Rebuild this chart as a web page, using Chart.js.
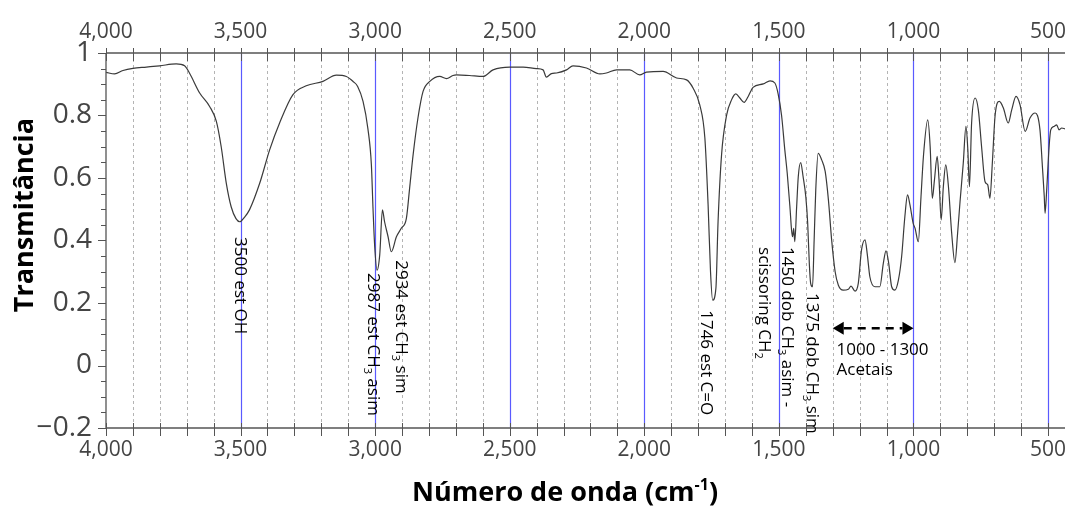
<!DOCTYPE html>
<html><head><meta charset="utf-8">
<script src="https://cdn.jsdelivr.net/npm/chart.js@4.4.1/dist/chart.umd.min.js"></script>
<style>html,body{margin:0;padding:0;background:#fff}#wrap{width:1065px;height:508px;position:relative}</style>
</head><body><div id="wrap"><canvas id="c"></canvas></div>
<script>
// ---- data ----
const wavenumbers = [4000,3968,3937,3900,3850,3801,3739,3708,3690,3652,3615,3590,3572,3553,3535,3517,3503,3485,3467,3429,3392,3355,3306,3256,3194,3144,3107,3082,3065,3045,3027,3014,3008,3002,2993,2983,2973,2965,2952,2940,2921,2903,2884,2872,2859,2841,2822,2797,2760,2735,2711,2698,2650,2599,2562,2500,2450,2401,2376,2364,2345,2326,2289,2265,2215,2165,2141,2103,2054,2017,1992,1930,1880,1843,1819,1794,1775,1763,1754,1746,1734,1726,1713,1694,1676,1660,1645,1629,1614,1596,1558,1533,1515,1503,1490,1478,1469,1459,1453,1449,1445,1441,1434,1428,1419,1410,1400,1393,1387,1382,1375,1369,1363,1354,1341,1328,1316,1304,1291,1279,1261,1242,1232,1217,1205,1193,1180,1172,1162,1143,1125,1112,1102,1092,1081,1069,1056,1044,1032,1022,1013,1001,994,982,972,963,947,938,930,922,912,905,897,889,880,870,858,846,836,827,815,805,798,792,784,771,759,747,734,724,716,707,697,681,666,648,635,619,604,585,567,548,530,521,514,511,505,496,490,478,468,459,449,437];
const transmittance = [0.938,0.933,0.944,0.951,0.955,0.959,0.965,0.959,0.936,0.872,0.829,0.781,0.700,0.583,0.508,0.470,0.460,0.475,0.498,0.583,0.690,0.776,0.866,0.895,0.909,0.929,0.925,0.909,0.893,0.845,0.758,0.642,0.503,0.386,0.305,0.354,0.498,0.460,0.412,0.364,0.412,0.439,0.471,0.567,0.674,0.792,0.877,0.909,0.925,0.918,0.928,0.930,0.928,0.925,0.946,0.955,0.955,0.950,0.946,0.923,0.934,0.936,0.946,0.959,0.952,0.933,0.936,0.946,0.946,0.930,0.939,0.941,0.920,0.914,0.888,0.834,0.728,0.514,0.300,0.209,0.247,0.460,0.674,0.802,0.850,0.869,0.856,0.842,0.861,0.890,0.901,0.911,0.904,0.870,0.800,0.690,0.615,0.508,0.434,0.412,0.439,0.396,0.508,0.604,0.649,0.604,0.540,0.455,0.327,0.263,0.252,0.402,0.562,0.679,0.658,0.621,0.530,0.402,0.300,0.257,0.241,0.244,0.254,0.238,0.263,0.370,0.402,0.359,0.284,0.252,0.252,0.327,0.367,0.327,0.252,0.241,0.273,0.348,0.476,0.546,0.514,0.455,0.439,0.396,0.540,0.669,0.786,0.701,0.535,0.594,0.669,0.594,0.466,0.572,0.642,0.572,0.423,0.329,0.423,0.524,0.647,0.765,0.690,0.572,0.776,0.856,0.818,0.701,0.588,0.578,0.535,0.647,0.797,0.845,0.824,0.776,0.818,0.861,0.834,0.749,0.792,0.808,0.754,0.637,0.540,0.487,0.562,0.701,0.754,0.765,0.770,0.754,0.760,0.757];
const xTickValues = [4000,3500,3000,2500,2000,1500,1000,500];
const yTickValues = [-0.2,0,0.2,0.4,0.6,0.8,1];
const xMin = 437, xMax = 4000, yMin = -0.2, yMax = 1;
const xTitle = ['Número de onda (cm', '-1', ')'];
const yTitle = 'Transmitância';
// peak annotations: anchor in data units (wavenumber, transmittance); segments [text, isSubscript]
const peakLabels = [
  {wn:3500, t:0.411, lines:[[['3500 est OH',0]]]},
  {wn:3005, t:0.296, lines:[[['2987 est CH',0],['3',1],[' asim',0]]]},
  {wn:2900, t:0.337, lines:[[['2934 est CH',0],['3',1],[' sim',0]]]},
  {wn:1766, t:0.177, lines:[[['1746 est C=O',0]]]},
  {wn:1467, t:0.379, lines:[[['1450 dob CH',0],['3',1],[' asim -',0]],[['scissoring CH',0],['2',1]]]},
  {wn:1374, t:0.232, lines:[[['1375 dob CH',0],['3',1],[' sim',0]]]}
];
const rangeArrow = {from:1300, to:1000, t:0.119};
const rangeText = [{wn:1286, t:0.049, text:'1000 - 1300'},{wn:1286, t:-0.015, text:'Acetais'}];

const FONT = "'Open Sans', 'Noto Sans', sans-serif";

function drawSegments(ctx, segs, fs){
  let x = 0;
  for (const [txt, sub] of segs){
    if (sub){
      ctx.font = Math.round(fs*0.65) + 'px ' + FONT;
      ctx.fillText(txt, x, fs*0.357 + fs*0.22);
    } else {
      ctx.font = fs + 'px ' + FONT;
      ctx.fillText(txt, x, fs*0.357);
    }
    x += ctx.measureText(txt).width;
  }
}

const decor = {
  id:'decor',
  beforeDatasetsDraw(chart){
    const ctx = chart.ctx, xs = chart.scales.x, a = chart.chartArea;
    ctx.save();
    for (let w = 4000; w >= 400; w -= 100){
      if (w < xMin) continue;
      const px = Math.round(xs.getPixelForValue(w)) + 0.5;
      if (w === 4000) continue;
      ctx.beginPath();
      if (w % 500 === 0){ ctx.setLineDash([]); ctx.strokeStyle = '#5a5aff'; ctx.lineWidth = 1.2; }
      else { ctx.setLineDash([3,3]); ctx.strokeStyle = '#b4b4b4'; ctx.lineWidth = 1; }
      ctx.moveTo(px, a.top); ctx.lineTo(px, a.bottom); ctx.stroke();
    }
    ctx.restore();
  },
  afterDatasetsDraw(chart){
    const ctx = chart.ctx, xs = chart.scales.x, ys = chart.scales.y, a = chart.chartArea;
    ctx.save();
    ctx.strokeStyle = '#555'; ctx.lineWidth = 1.3; ctx.setLineDash([]);
    // axis lines
    ctx.beginPath();
    ctx.moveTo(a.left, a.top); ctx.lineTo(a.left, a.bottom);
    ctx.moveTo(a.left, a.top); ctx.lineTo(a.right, a.top);
    ctx.moveTo(a.left, a.bottom); ctx.lineTo(a.right, a.bottom);
    ctx.stroke();
    // x ticks
    ctx.lineWidth = 1;
    ctx.beginPath();
    for (let w = 4000; w >= 400; w -= 100){
      if (w < xMin) continue;
      const px = Math.round(xs.getPixelForValue(w)) + 0.5;
      ctx.moveTo(px, a.top - 5); ctx.lineTo(px, a.top + 8);
      ctx.moveTo(px, a.bottom - 5); ctx.lineTo(px, a.bottom + 8);
    }
    // y ticks
    for (let k = 0; k <= 24; k++){
      const v = yMin + k*0.05;
      const py = Math.round(ys.getPixelForValue(v)) + 0.5;
      const len = (k % 4 === 0) ? 8 : 5;
      ctx.moveTo(a.left - len, py); ctx.lineTo(a.left, py);
    }
    ctx.stroke();

    // peak labels (rotated)
    const fs = 17;
    ctx.fillStyle = '#000';
    ctx.textAlign = 'left'; ctx.textBaseline = 'alphabetic';
    for (const L of peakLabels){
      const px = xs.getPixelForValue(L.wn), py = ys.getPixelForValue(L.t);
      ctx.save();
      ctx.translate(px, py); ctx.rotate(Math.PI/2);
      L.lines.forEach((segs, i) => {
        ctx.save(); ctx.translate(0, i*23); drawSegments(ctx, segs, fs); ctx.restore();
      });
      ctx.restore();
    }
    // range arrow
    const x1 = xs.getPixelForValue(rangeArrow.from), x2 = xs.getPixelForValue(rangeArrow.to);
    const ay = ys.getPixelForValue(rangeArrow.t);
    const hl = 11, hw = 6.5;
    ctx.strokeStyle = '#000'; ctx.lineWidth = 2.6; ctx.setLineDash([8,6]);
    ctx.beginPath(); ctx.moveTo(x1 + hl, ay); ctx.lineTo(x2 - hl, ay); ctx.stroke();
    ctx.setLineDash([]);
    ctx.beginPath();
    ctx.moveTo(x1, ay); ctx.lineTo(x1 + hl, ay - hw); ctx.lineTo(x1 + hl, ay + hw); ctx.closePath();
    ctx.moveTo(x2, ay); ctx.lineTo(x2 - hl, ay - hw); ctx.lineTo(x2 - hl, ay + hw); ctx.closePath();
    ctx.fill();
    ctx.font = fs + 'px ' + FONT; ctx.textBaseline = 'middle'; ctx.textAlign = 'left';
    for (const r of rangeText){
      ctx.fillText(r.text, xs.getPixelForValue(r.wn), ys.getPixelForValue(r.t));
    }

    // axis titles
    ctx.fillStyle = '#000';
    const tf = 27;
    ctx.font = 'bold ' + tf + 'px ' + FONT;
    const w0 = ctx.measureText(xTitle[0]).width;
    ctx.font = 'bold ' + Math.round(tf*0.6) + 'px ' + FONT;
    const w1 = ctx.measureText(xTitle[1]).width;
    ctx.font = 'bold ' + tf + 'px ' + FONT;
    const w2 = ctx.measureText(xTitle[2]).width;
    let tx = 565 - (w0 + w1 + w2)/2;
    const ty = 501;
    ctx.textAlign = 'left'; ctx.textBaseline = 'alphabetic';
    ctx.fillText(xTitle[0], tx, ty); tx += w0;
    ctx.font = 'bold ' + Math.round(tf*0.6) + 'px ' + FONT;
    ctx.fillText(xTitle[1], tx, ty - tf*0.42); tx += w1;
    ctx.font = 'bold ' + tf + 'px ' + FONT;
    ctx.fillText(xTitle[2], tx, ty);

    ctx.save();
    ctx.translate(25, 215); ctx.rotate(-Math.PI/2);
    ctx.textAlign = 'center'; ctx.textBaseline = 'middle';
    ctx.fillText(yTitle, 0, 0);
    ctx.restore();
    ctx.restore();
  }
};

const xTickCfg = {
  autoSkip:false, maxRotation:0, minRotation:0, color:'#444',
  font:{family:FONT, size:21},
  callback:(v)=>Number(v).toLocaleString('en-US')
};
const noPad = (s)=>{ s.paddingLeft = 0; s.paddingRight = 0; s.paddingTop = 0; s.paddingBottom = 0; };

new Chart(document.getElementById('c'), {
  type:'line',
  data:{datasets:[{
    data: wavenumbers.map((w,i)=>({x:w, y:transmittance[i]})),
    borderColor:'#3a3a3a', borderWidth:1.2, pointRadius:0,
    cubicInterpolationMode:'monotone', xAxisID:'x', yAxisID:'y'
  }]},
  options:{
    responsive:true, maintainAspectRatio:false, animation:false,
    layout:{padding:0},
    plugins:{legend:{display:false}, tooltip:{enabled:false}},
    scales:{
      x:{type:'linear', position:'bottom', min:xMin, max:xMax, reverse:true,
        grid:{display:false, drawTicks:false}, border:{display:false},
        afterBuildTicks:(s)=>{s.ticks = xTickValues.map(v=>({value:v}));},
        afterFit:(s)=>{s.height = 80; noPad(s);},
        ticks:Object.assign({padding:9}, xTickCfg)},
      x2:{type:'linear', position:'top', min:xMin, max:xMax, reverse:true,
        grid:{display:false, drawTicks:false}, border:{display:false},
        afterBuildTicks:(s)=>{s.ticks = xTickValues.map(v=>({value:v}));},
        afterFit:(s)=>{s.height = 53; noPad(s);},
        ticks:Object.assign({padding:8}, xTickCfg)},
      y:{type:'linear', position:'left', min:yMin, max:yMax,
        grid:{display:false, drawTicks:false}, border:{display:false},
        afterBuildTicks:(s)=>{s.ticks = yTickValues.map(v=>({value:v}));},
        afterFit:(s)=>{s.width = 106; noPad(s);},
        ticks:{autoSkip:false, color:'#444', padding:14, font:{family:FONT, size:28},
          callback:(v)=>{ if (Math.abs(v) < 1e-9) return '0'; if (Math.abs(v-1) < 1e-9) return '1';
            return (v < 0 ? '\u2212' : '') + Math.abs(v).toFixed(1); }}}
    }
  },
  plugins:[decor]
});
</script>
</body></html>
